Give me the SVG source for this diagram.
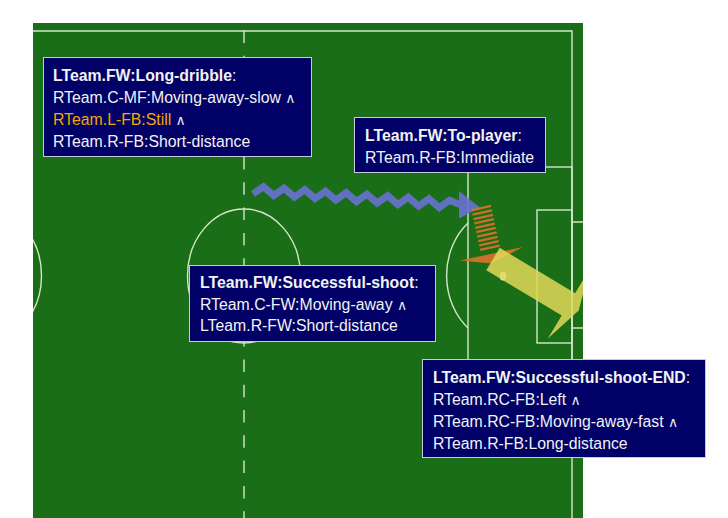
<svg xmlns="http://www.w3.org/2000/svg" width="728" height="518" viewBox="0 0 728 518">
  <style>
    .pitch { fill: #1a6e17; }
    .ln { fill: none; stroke: #d5e6cc; stroke-width: 1.4; }
    .box { fill: #000066; stroke: #c8cadc; stroke-width: 1; }
    .t { font-family: "Liberation Sans", Arial, sans-serif; font-size: 15.8px; fill: #f2f2f2; }
    .b { font-weight: bold; }
    .hl { fill: #f5a800; }
    .and { font-family: "DejaVu Sans", sans-serif; font-size: 14px; fill: #e8e8ee; }
  </style>
  <defs>
    <clipPath id="field">
      <rect x="33" y="23" width="550" height="495"/>
    </clipPath>
  </defs>

  <rect width="728" height="518" fill="#ffffff"/>

  <!-- pitch and markings -->
  <g id="pitch" clip-path="url(#field)">
    <rect class="pitch" x="33" y="23" width="550" height="495"/>
    <path class="ln" d="M33 31 H572 V518"/>
    <line class="ln" x1="244" y1="30.5" x2="244" y2="518" stroke-dasharray="12.5 12.8"/>
    <ellipse class="ln" cx="244" cy="276" rx="56.5" ry="67"/>
    <ellipse cx="244" cy="276" rx="3" ry="4" fill="#d5e6cc"/>
    <!-- left penalty area -->
    <path class="ln" d="M20 167 V383"/>
    <ellipse class="ln" cx="-15" cy="275.5" rx="56.5" ry="67"/>
    <!-- right penalty area -->
    <rect class="ln" x="468" y="167" width="104" height="216"/>
    <path class="ln" d="M468 223 A56.5 67 0 0 0 468 328"/>
    <rect class="ln" x="537" y="210" width="35" height="133"/>
    <path class="ln" d="M572 222 H590 M572 328 H590"/>
    <ellipse cx="503" cy="276" rx="3.3" ry="4.5" fill="#e6eedc"/>
  </g>

  <!-- connectors -->
  <g id="connectors" clip-path="url(#field)">
    <!-- long dribble -->
    <g id="dribble" opacity="0.9">
      <polyline fill="none" stroke="#6a72d2" stroke-width="7" stroke-linejoin="miter" stroke-miterlimit="4"
        points="253,194 263.4,186.75 273.7,195.5 284.1,188.25 294.4,197 304.8,189.75 315.1,198.5 325.5,191.25 335.8,200 346.2,192.75 356.5,201.5 366.9,194.25 377.2,203 387.6,195.75 397.9,204.5 408.3,197.25 418.6,206 429,198.75 439.3,207.5 449.7,200.25 461,205"/>
      <polygon fill="#6a72d2" points="459,191 480,207.5 459,218.5"/>
    </g>
    <!-- pass to player -->
    <g id="pass" opacity="0.92">
      <line x1="481" y1="207" x2="490.5" y2="250.5" stroke="#d8722a" stroke-width="20" stroke-dasharray="2.3 2.2"/>
      <polygon fill="#d8722a" points="460,260.5 523,247 491,263.5"/>
    </g>
    <!-- shot -->
    <g id="shot" transform="translate(493 259) rotate(31)">
      <polygon fill="#e2d858" opacity="0.85" points="0,-13 88,-13 88,-40 100,0 88,40 88,13 0,13"/>
    </g>
  </g>

  <!-- state boxes -->
  <g id="long-dribble">
    <rect class="box" x="43.5" y="57.5" width="268" height="99"/>
    <text class="t" x="53" y="80.5"><tspan class="b">LTeam.FW:Long-dribble</tspan>:</text>
    <text class="t" x="53" y="102.5">RTeam.C-MF:Moving-away-slow <tspan class="and">∧</tspan></text>
    <text class="t" x="53" y="124.5"><tspan class="hl">RTeam.L-FB:Still</tspan> <tspan class="and">∧</tspan></text>
    <text class="t" x="53" y="146.5">RTeam.R-FB:Short-distance</text>
  </g>

  <g id="to-player">
    <rect class="box" x="354.5" y="117.5" width="191" height="55"/>
    <text class="t" x="365" y="140.5"><tspan class="b">LTeam.FW:To-player</tspan>:</text>
    <text class="t" x="365" y="163">RTeam.R-FB:Immediate</text>
  </g>

  <g id="successful-shoot">
    <rect class="box" x="189.5" y="265.5" width="246" height="76"/>
    <text class="t" x="200" y="287.5"><tspan class="b">LTeam.FW:Successful-shoot</tspan>:</text>
    <text class="t" x="200" y="309.5">RTeam.C-FW:Moving-away <tspan class="and">∧</tspan></text>
    <text class="t" x="200" y="331">LTeam.R-FW:Short-distance</text>
  </g>

  <g id="successful-shoot-end">
    <rect class="box" x="422.5" y="359.5" width="283" height="98"/>
    <text class="t" x="433" y="382.5"><tspan class="b">LTeam.FW:Successful-shoot-END</tspan>:</text>
    <text class="t" x="433" y="405">RTeam.RC-FB:Left <tspan class="and">∧</tspan></text>
    <text class="t" x="433" y="427">RTeam.RC-FB:Moving-away-fast <tspan class="and">∧</tspan></text>
    <text class="t" x="433" y="448.5">RTeam.R-FB:Long-distance</text>
  </g>
</svg>
